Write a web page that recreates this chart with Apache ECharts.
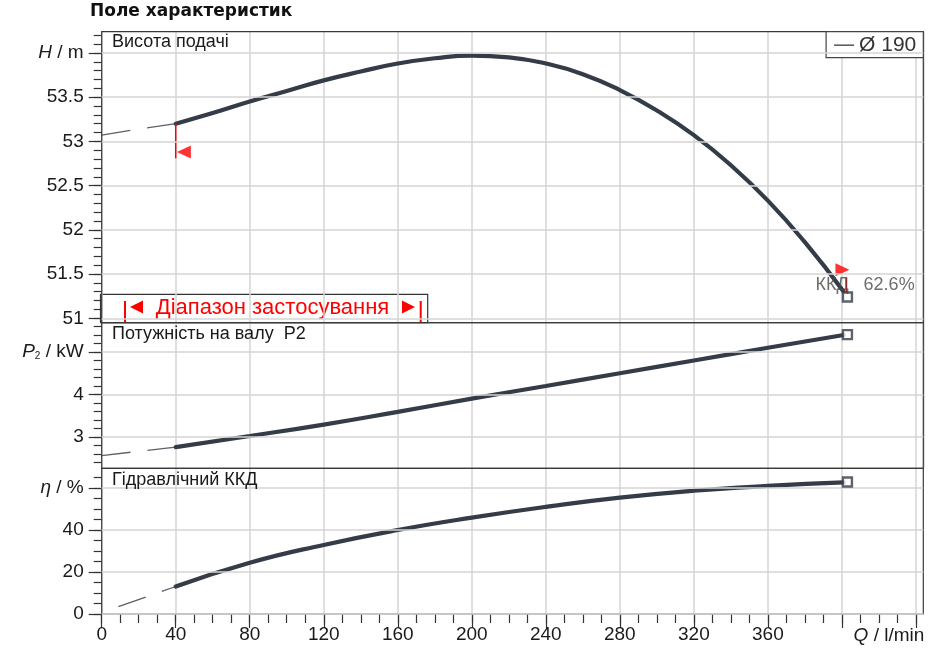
<!DOCTYPE html>
<html>
<head>
<meta charset="utf-8">
<title>Поле характеристик</title>
<script src="https://cdn.jsdelivr.net/npm/echarts@6/dist/echarts.min.js"></script>
<style>
html, body { margin: 0; padding: 0; background: #fff; }
#chart { width: 930px; height: 660px; }
</style>
</head>
<body>
<div id="chart"></div>
<script>
// Висота подачі H, m (робоча частина кривої)
var qHead = [40, 60, 80, 100, 120, 140, 160, 180, 200, 220, 240, 260, 280, 300, 320, 340, 360, 380, 401];
var head = [53.2, 53.32, 53.45, 53.57, 53.69, 53.79, 53.88, 53.94, 53.97, 53.95, 53.88, 53.76, 53.58, 53.35, 53.07, 52.73, 52.33, 51.86, 51.3];
// продовження кривої до Q = 0 (штрих)
var qHeadExt = [0, 20, 40];
var headExt = [53.07, 53.14, 53.2];

// Потужність на валу P2, kW
var qPower = [40, 80, 120, 160, 200, 240, 280, 320, 360, 401];
var power = [2.76, 3.02, 3.29, 3.59, 3.9, 4.2, 4.5, 4.8, 5.1, 5.4];
var qPowerExt = [0, 20, 40];
var powerExt = [2.56, 2.66, 2.76];

// Гідравлічний ККД, %
var qEff = [40, 80, 120, 160, 200, 240, 280, 320, 360, 401];
var eff = [13.1, 24.4, 32.9, 40.0, 45.9, 51.0, 55.4, 58.7, 61.0, 62.7];
var qEffExt = [9, 25, 40];
var effExt = [3.5, 8.4, 13.1];

// кінцеві точки (квадратики)
var qEnd = 403;
var endValues = [51.24, 5.41, 62.9];
var effAtEnd = 62.6;

// межі діапазону застосування
var rangeLineQ = [40, 402.5];
var rangeLineH = [[53.2, 52.81], [51.46, 51.29]];
var rangeArrowQ = [44.4, 400.3];
var rangeArrowH = [52.88, 51.55];

// шкали та підписи
var qRange = [0, 444];
var hRange = [50.95, 54.24];
var pRange = [2.26, 5.69];
var etaRange = [0, 69.4];
var qLabels = [0, 40, 80, 120, 160, 200, 240, 280, 320, 360];
var qMajor = [0, 40, 80, 120, 160, 200, 240, 280, 320, 360, 400, 440];
var hLabels = [51, 51.5, 52, 52.5, 53, 53.5, 54];
var pLabels = [3, 4, 5];
var etaLabels = [0, 20, 40, 60];

var FONT = '"Liberation Sans", Arial, sans-serif';
var CURVE = '#333c47';
var DASH = '#5a6169';
var GRIDLINE = '#d5d5d5';
var TEXT = '#1a1a1a';
var RED = '#ff0000';

function steps(from, to, step) {
    var out = [];
    for (var i = 0; from + i * step <= to + 1e-9; i++) {
        out.push(+(from + i * step).toFixed(3));
    }
    return out;
}
function zip(xs, ys) {
    return xs.map(function (x, i) { return [x, ys[i]]; });
}

var hMinor = steps(51, 54.2, 0.1);
var pMinor = steps(2.4, 5.6, 0.2);
var etaMinor = steps(0, 65, 5);
var qMinor = steps(0, 440, 10);

var rich = {
    i: { fontStyle: 'italic', fontSize: 19, fontFamily: FONT, color: TEXT },
    s: { fontSize: 10, fontFamily: FONT, color: TEXT, verticalAlign: 'bottom' }
};
var tickLine = { color: '#333', width: 1.2 };

// дві осі на панель: основні поділки з підписами і дрібні поділки
function yAxes(gridIndex, range, labels, minor, nameValue, nameText) {
    return [{
        type: 'value', gridIndex: gridIndex, position: 'left',
        min: range[0], max: range[1],
        axisLine: { show: false },
        splitLine: { show: false },
        axisTick: { show: true, customValues: labels, length: 13, lineStyle: tickLine },
        axisLabel: {
            customValues: labels, margin: 18, color: TEXT, fontSize: 19, fontFamily: FONT,
            formatter: function (v) { return v === nameValue ? nameText : String(v); },
            rich: rich
        }
    }, {
        type: 'value', gridIndex: gridIndex, position: 'left',
        min: range[0], max: range[1],
        axisLine: { show: false },
        splitLine: { show: false },
        axisLabel: { show: false },
        axisTick: { show: true, customValues: minor, length: 8, lineStyle: tickLine }
    }];
}

function xAxisPlain(gridIndex) {
    return {
        type: 'value', gridIndex: gridIndex, position: 'bottom',
        min: qRange[0], max: qRange[1], interval: 40,
        axisLine: { show: false },
        axisTick: { show: false },
        axisLabel: { show: false },
        splitLine: { show: true, lineStyle: { color: GRIDLINE, width: 1.5 } }
    };
}

// горизонтальні лінії сітки
function gridLines(xi, yi, values) {
    return {
        type: 'line', xAxisIndex: xi, yAxisIndex: yi,
        data: [[qRange[0], values[0]]], showSymbol: false, silent: true, z: 1,
        lineStyle: { opacity: 0 },
        markLine: {
            silent: true, symbol: ['none', 'none'], label: { show: false },
            lineStyle: { color: GRIDLINE, width: 1.5, type: 'solid' },
            data: values.map(function (v) { return { yAxis: v }; })
        }
    };
}
function dashed(xi, yi, xs, ys) {
    return {
        type: 'line', xAxisIndex: xi, yAxisIndex: yi, data: zip(xs, ys),
        symbol: 'none', silent: true, z: 2,
        lineStyle: { color: DASH, width: 1.3, type: [29, 17] }
    };
}
function curve(name, xi, yi, xs, ys) {
    return {
        name: name, type: 'line', xAxisIndex: xi, yAxisIndex: yi, data: zip(xs, ys),
        symbol: 'none', smooth: 0.5, z: 3, silent: true,
        lineStyle: { color: CURVE, width: 4.2, cap: 'round' }
    };
}
function endSquare(xi, yi, value, label) {
    return {
        type: 'scatter', xAxisIndex: xi, yAxisIndex: yi, data: [[qEnd, value]],
        symbol: 'rect', symbolSize: 9, z: 5, silent: true,
        itemStyle: { color: '#fff', borderColor: CURVE, borderWidth: 2.4 },
        label: label || { show: false }
    };
}

var chart = echarts.init(document.getElementById('chart'));

var series = [
    gridLines(0, 0, hLabels),
    gridLines(1, 2, pLabels),
    gridLines(2, 4, etaLabels),
    dashed(0, 0, qHeadExt, headExt),
    dashed(1, 2, qPowerExt, powerExt),
    dashed(2, 4, qEffExt, effExt),
    curve('Ø 190', 0, 0, qHead, head),
    curve('P2', 1, 2, qPower, power),
    curve('ККД', 2, 4, qEff, eff)
];
rangeLineQ.forEach(function (q, i) {
    series.push({
        type: 'line', xAxisIndex: 0, yAxisIndex: 0, silent: true, z: 4,
        data: [[q, rangeLineH[i][0]], [q, rangeLineH[i][1]]],
        symbol: 'none', lineStyle: { color: RED, width: 1.5 }
    });
    series.push({
        type: 'scatter', xAxisIndex: 0, yAxisIndex: 0, silent: true, z: 4,
        data: [[rangeArrowQ[i], rangeArrowH[i]]],
        symbol: 'triangle', symbolRotate: i === 0 ? 90 : -90, symbolSize: [13, 14],
        itemStyle: { color: RED }
    });
});
series.push(endSquare(0, 0, endValues[0], {
    show: true, position: 'inside', align: 'left', verticalAlign: 'middle',
    offset: [-32, -12], color: '#4a4a4a', fontSize: 18, fontFamily: FONT,
    formatter: 'ККД   ' + effAtEnd + '%'
}));
series.push(endSquare(1, 2, endValues[1]));
series.push(endSquare(2, 4, endValues[2]));

var xMain = xAxisPlain(2);
xMain.axisTick = { show: true, customValues: qMajor, length: 14, lineStyle: tickLine };
xMain.axisLabel = { show: true, customValues: qLabels, margin: 11, color: TEXT, fontSize: 19, fontFamily: FONT };
xMain.name = '{i|Q} / l/min';
xMain.nameLocation = 'end';
xMain.nameGap = 1;
xMain.nameTextStyle = {
    align: 'right', verticalAlign: 'top', padding: [12, 0, 0, 0],
    color: TEXT, fontSize: 19, fontFamily: FONT, rich: rich
};

var panelTitle = { fontFamily: FONT, fontWeight: 'normal', fontSize: 18, color: TEXT };

var option = {
    animation: false,
    backgroundColor: '#fff',
    title: [
        { text: 'Поле характеристик', left: 90, top: 3, padding: 0,
          textStyle: { fontFamily: '"DejaVu Sans", sans-serif', fontWeight: 'bold', fontSize: 17, color: '#111' } },
        { text: 'Висота подачі', left: 112, top: 33, padding: 0, textStyle: panelTitle },
        { text: 'Потужність на валу  P2', left: 112, top: 325, padding: 0, textStyle: panelTitle },
        { text: 'Гідравлічний ККД', left: 112, top: 471, padding: 0, textStyle: panelTitle }
    ],
    legend: {
        data: ['Ø 190'], right: 6.7, top: 31.7, selectedMode: false,
        backgroundColor: '#fff', borderColor: '#444', borderWidth: 1.2,
        padding: [3, 7, 2, 8], icon: 'rect', itemWidth: 20, itemHeight: 1.5, itemGap: 5,
        itemStyle: { color: '#555' },
        textStyle: { fontSize: 21, fontFamily: FONT, color: '#333' }
    },
    grid: [
        { left: 101.7, right: 6.7, top: 31.7, height: 291, show: true, z: 3,
          borderColor: '#3a3a3a', borderWidth: 1.2, backgroundColor: 'transparent' },
        { left: 101.7, right: 6.7, top: 322.7, height: 145.6, show: true, z: 3,
          borderColor: '#3a3a3a', borderWidth: 1.2, backgroundColor: 'transparent' },
        { left: 101.7, right: 6.7, top: 468.3, height: 145.7, show: true, z: 3,
          borderColor: '#3a3a3a', borderWidth: 1.2, backgroundColor: 'transparent' }
    ],
    xAxis: [
        xAxisPlain(0),
        xAxisPlain(1),
        xMain,
        {
            type: 'value', gridIndex: 2, position: 'bottom',
            min: qRange[0], max: qRange[1],
            axisLine: { show: false }, splitLine: { show: false }, axisLabel: { show: false },
            axisTick: { show: true, customValues: qMinor, length: 9, lineStyle: tickLine }
        }
    ],
    yAxis: []
        .concat(yAxes(0, hRange, hLabels, hMinor, 54, '{i|H} / m'))
        .concat(yAxes(1, pRange, pLabels, pMinor, 5, '{i|P}{s|2} / kW'))
        .concat(yAxes(2, etaRange, etaLabels, etaMinor, 60, '{i|η} / %')),
    graphic: [{
        type: 'group', z: 10,
        children: [
            { type: 'rect', shape: { x: 100.5, y: 294.3, width: 327.2, height: 28.4 },
              style: { fill: '#fff', stroke: '#333', lineWidth: 1.2 } },
            { type: 'line', shape: { x1: 125, y1: 301, x2: 125, y2: 322 },
              style: { stroke: RED, lineWidth: 2 } },
            { type: 'line', shape: { x1: 420.7, y1: 301, x2: 420.7, y2: 322 },
              style: { stroke: RED, lineWidth: 2 } },
            { type: 'polygon', shape: { points: [[130, 307], [143, 300.5], [143, 313.5]] },
              style: { fill: RED } },
            { type: 'polygon', shape: { points: [[415, 307], [402, 300.5], [402, 313.5]] },
              style: { fill: RED } },
            { type: 'text',
              style: { x: 272.5, y: 308, text: 'Діапазон застосування', fill: RED,
                       font: '22px "Liberation Sans", Arial, sans-serif',
                       textAlign: 'center', textVerticalAlign: 'middle',
                       align: 'center', verticalAlign: 'middle' } }
        ]
    }],
    series: series
};

chart.setOption(option);
</script>
</body>
</html>
